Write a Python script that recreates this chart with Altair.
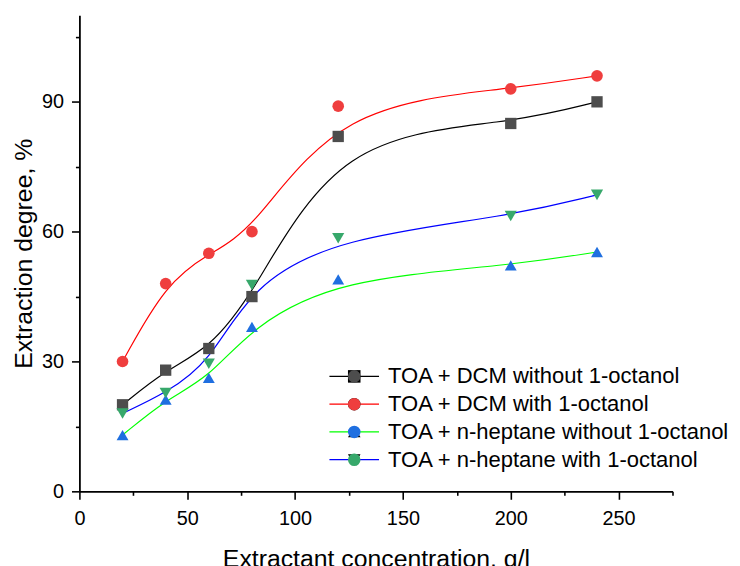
import altair as alt
import pandas as pd

# ---- data ----
conc = [20, 40, 60, 80, 120, 200, 240]
series = [
    "TOA + DCM without 1-octanol",
    "TOA + DCM with 1-octanol",
    "TOA + n-heptane without 1-octanol",
    "TOA + n-heptane with 1-octanol",
]
dcm_without = [20, 28, 33, 45, 82, 85, 90]
dcm_with = [30, 48, 55, 60, 89, 93, 96]
hep_without = [13, 21.2, 26.2, 38, 49, 52.2, 55.3]
hep_with = [18, 22.7, 29.5, 47.7, 58.5, 63.6, 68.5]

line_colors = ["#000000", "#ff0000", "#00ff00", "#0000ff"]
marker_colors = ["#4d4d4d", "#ef3e3e", "#1f6fe0", "#37a86b"]
marker_shapes = ["square", "circle", "triangle-up", "triangle-down"]
marker_sizes = [130, 150, 250, 250]

x_ticks = [0, 25, 50, 75, 100, 125, 150, 175, 200, 225, 250, 275]
y_ticks = [0, 15, 30, 45, 60, 75, 90, 105]

rows = []
for name, vals in zip(series, [dcm_without, dcm_with, hep_without, hep_with]):
    for xv, yv in zip(conc, vals):
        rows.append({"conc": xv, "deg": yv, "series": name, "series_line": name})
df = pd.DataFrame(rows)

FONT = "Liberation Sans"
LEG_X = 266
LEG_Y = 353
LEG_FS = 22.2
LEG_LABEL_OFFSET = 23

x_enc = alt.X(
    "conc:Q",
    scale=alt.Scale(domain=[0, 275], nice=False, zero=False),
    axis=alt.Axis(
        title="Extractant concentration, g/l",
        values=x_ticks,
        labelExpr="datum.value % 50 === 0 ? datum.label : ''",
        tickSize={"condition": {"test": "datum.value % 50 === 0", "value": 8}, "value": 4},
        labelFlush=False,
        labelOverlap=False,
        labelPadding=9,
        titlePadding=19,
    ),
)
y_enc = alt.Y(
    "deg:Q",
    scale=alt.Scale(domain=[0, 110], nice=False, zero=False),
    axis=alt.Axis(
        title="Extraction degree, %",
        values=y_ticks,
        labelExpr="datum.value % 30 === 0 ? datum.label : ''",
        tickSize={"condition": {"test": "datum.value % 30 === 0", "value": 8}, "value": 4},
        labelFlush=False,
        labelOverlap=False,
        labelPadding=8,
        titlePadding=5,
    ),
)

def marker_legend():
    return alt.Legend(
        title=None,
        orient="none",
        legendX=LEG_X,
        legendY=LEG_Y,
        symbolSize=160,
        symbolStrokeWidth=0,
        labelFont=FONT,
        labelFontSize=LEG_FS,
        labelColor="transparent",
        labelOffset=LEG_LABEL_OFFSET,
        labelLimit=0,
        rowPadding=5,
        padding=0,
    )

lines = alt.Chart(df).mark_line(interpolate="basis", strokeWidth=1.2).encode(
    x=x_enc,
    y=y_enc,
    color=alt.Color(
        "series_line:N",
        sort=series,
        scale=alt.Scale(range=line_colors),
        legend=alt.Legend(
            title=None,
            orient="none",
            legendX=LEG_X,
            legendY=LEG_Y,
            symbolType="M-2.5,0H2.5",
            symbolSize=400,
            symbolStrokeWidth=1.2,
            labelFont=FONT,
            labelFontSize=LEG_FS,
            labelColor="black",
            labelOffset=LEG_LABEL_OFFSET,
            labelLimit=0,
            rowPadding=5,
            padding=0,
        ),
    ),
)

points = alt.Chart(df).mark_point(filled=True, opacity=1).encode(
    x="conc:Q",
    y="deg:Q",
    fill=alt.Fill("series:N", sort=series, scale=alt.Scale(range=marker_colors), legend=marker_legend()),
    shape=alt.Shape("series:N", sort=series, scale=alt.Scale(range=marker_shapes), legend=marker_legend()),
    size=alt.Size("series:N", sort=series, scale=alt.Scale(range=marker_sizes), legend=None),
)

chart = (
    alt.layer(lines, points)
    .properties(
        width=598,
        height=480,
        padding={"left": 72, "top": 5, "right": 60, "bottom": 79},
        autosize=alt.AutoSizeParams(type="none"),
    )
    .configure_view(stroke=None)
    .configure_axis(
        grid=False,
        domainColor="black",
        domainWidth=1.8,
        tickColor="black",
        tickWidth=1.6,
        labelFont=FONT,
        labelFontSize=20,
        labelColor="black",
        titleFont=FONT,
        titleFontSize=25,
        titleFontWeight="normal",
        titleColor="black",
    )
)

chart.save("out.html", embed_options={"renderer": "svg", "actions": False})
